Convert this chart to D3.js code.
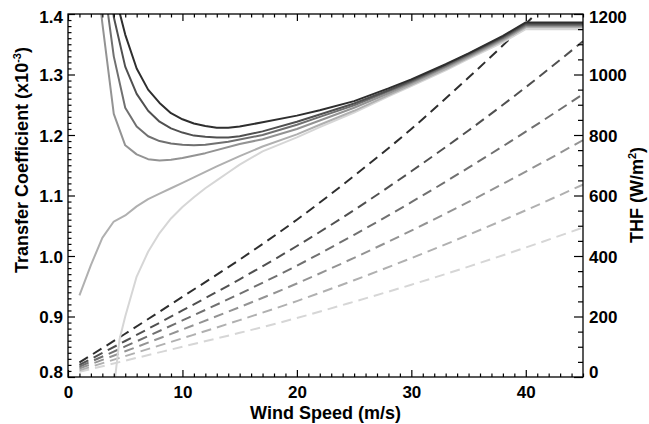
<!DOCTYPE html>
<html><head><meta charset="utf-8">
<script src="https://cdn.jsdelivr.net/npm/d3@7"></script>
<style>
body{margin:0;background:#fff}
text{font-family:"Liberation Sans",Arial,Helvetica,sans-serif;font-weight:bold;fill:#000}
</style>
</head><body>
<svg id="chart" width="649" height="424"></svg>
<script>
// ---------- data ----------
const windMajorTicks = [0, 10, 20, 30, 40];
const tcTicks = [0.8, 0.9, 1.0, 1.1, 1.2, 1.3, 1.4];
const thfTicks = [0, 200, 400, 600, 800, 1000, 1200];
const grays = ["#2e2e2e", "#505050", "#707070", "#939393", "#b0b0b0", "#d6d6d6"];

// transfer coefficient curves (x10^-3), solid
const tcWind1 = [4,5,6,7,8,9,10,11,12,13,14,15,17,20,22,25,28,30,33,35,38,40,45];
const tcCoef1 = [1.44,1.366,1.31,1.275,1.253,1.236,1.226,1.219,1.215,1.212,1.212,1.214,1.221,1.232,1.241,1.256,1.277,1.292,1.317,1.335,1.364,1.386,1.386];
const tcWind2 = [3,4,5,6,7,8,9,10,11,12,13,14,15,17,20,22,25,28,30,33,35,38,40,45];
const tcCoef2 = [1.6,1.395,1.313,1.268,1.240,1.222,1.211,1.204,1.199,1.197,1.196,1.196,1.198,1.206,1.222,1.234,1.252,1.274,1.290,1.316,1.334,1.362,1.384,1.384];
const tcWind3 = [3,4,5,6,7,8,9,10,11,12,14,17,20,22,25,28,30,33,35,38,40,45];
const tcCoef3 = [1.47,1.33,1.245,1.214,1.198,1.190,1.186,1.184,1.183,1.184,1.189,1.200,1.217,1.230,1.249,1.272,1.288,1.314,1.332,1.360,1.382,1.382];
const tcWind4 = [2,3,4,5,6,7,8,9,10,12,15,17,20,22,25,28,30,33,35,38,40,45];
const tcCoef4 = [1.55,1.385,1.235,1.183,1.168,1.160,1.158,1.159,1.162,1.170,1.185,1.193,1.210,1.224,1.245,1.269,1.286,1.312,1.330,1.358,1.380,1.380];
const tcWind5 = [1,2,3,4,5,6,7,8,9,10,11,12,13,15,17,20,22,25,28,30,33,35,38,40,45];
const tcCoef5 = [0.935,0.985,1.03,1.057,1.067,1.082,1.094,1.103,1.112,1.121,1.130,1.139,1.148,1.165,1.181,1.201,1.217,1.240,1.266,1.283,1.309,1.328,1.356,1.378,1.378];
const tcWind6 = [4,4.5,5,6,7,8,9,10,11,12,13,14,15,17,20,22,25,28,30,33,35,38,40,45];
const tcCoef6 = [0.78,0.862,0.90,0.966,1.007,1.038,1.062,1.081,1.097,1.112,1.125,1.138,1.151,1.173,1.196,1.213,1.237,1.264,1.281,1.307,1.326,1.353,1.375,1.375];

// total heat flux curves (W/m^2), dashed
const thfWind = [1,5,10,15,20,25,30,35,40,45];
const thf1 = [48,143,265,388,520,665,820,990,1168,1350];
const thf2 = [40,119,220,323,433,552,680,815,958,1110];
const thf3 = [34,101,187,275,368,470,578,692,811,935];
const thf4 = [28,85,157,231,309,394,484,579,679,783];
const thf5 = [22,69,128,188,251,320,393,470,551,636];
const thf6 = [17,54,100,146,195,249,305,365,428,494];

// ---------- chart ----------
const L = 68, R = 583, T = 14, B = 377;
const svg = d3.select("#chart");
const x = d3.scaleLinear().domain([0, 45]).range([L, R]);
const yL = d3.scaleLinear().domain([0.8, 1.4]).range([B, T]);
const yR = d3.scaleLinear().domain([0, 1200]).range([B, T]);

svg.append("defs").append("clipPath").attr("id", "clip")
  .append("rect").attr("x", L).attr("y", T).attr("width", R - L).attr("height", B - T);

const plot = svg.append("g").attr("clip-path", "url(#clip)");

const tcSets = [[tcWind1,tcCoef1],[tcWind2,tcCoef2],[tcWind3,tcCoef3],[tcWind4,tcCoef4],[tcWind5,tcCoef5],[tcWind6,tcCoef6]];
const thfSets = [thf1, thf2, thf3, thf4, thf5, thf6];

const lineTC = d3.line().x(d => x(d[0])).y(d => yL(d[1])).curve(d3.curveLinear);
const lineTHF = d3.line().x(d => x(d[0])).y(d => yR(d[1])).curve(d3.curveMonotoneX);

// dashed THF (draw lightest first)
thfSets.map((v, i) => ({v, i})).reverse().forEach(({v, i}) => {
  plot.append("path")
    .datum(thfWind.map((w, k) => [w, v[k]]))
    .attr("d", lineTHF).attr("fill", "none")
    .attr("stroke", grays[i]).attr("stroke-width", 2)
    .attr("stroke-dasharray", "10,6");
});
// solid TC
tcSets.map((s, i) => ({s, i})).reverse().forEach(({s, i}) => {
  plot.append("path")
    .datum(s[0].map((w, k) => [w, s[1][k]]))
    .attr("d", lineTC).attr("fill", "none")
    .attr("stroke", grays[i]).attr("stroke-width", 2)
    .attr("stroke-linejoin", "round");
});

// ---------- axes ----------
function styleAxis(g) {
  g.select(".domain").remove();
  g.selectAll("line").attr("stroke", "#000").attr("stroke-width", 1.2);
  g.selectAll("text").attr("font-size", 17).attr("font-family", '"Liberation Sans",Arial,sans-serif').attr("font-weight", "bold").attr("fill", "#000");
}
const minorX = d3.range(0, 46, 1).filter(v => v % 10 !== 0);
const minorL = d3.range(80, 141, 1).map(v => v / 100).filter(v => Math.round(v * 100) % 10 !== 0);
const minorR = d3.range(0, 1201, 50).filter(v => v % 200 !== 0);

// bottom
svg.append("g").attr("transform", `translate(0,${B})`)
  .call(d3.axisBottom(x).tickValues(windMajorTicks).tickSize(-7).tickPadding(9).tickFormat(d3.format("d")))
  .call(styleAxis);
svg.append("g").attr("transform", `translate(0,${B})`)
  .call(d3.axisBottom(x).tickValues(minorX).tickSize(-3.5).tickFormat(""))
  .call(styleAxis);
// top
svg.append("g").attr("transform", `translate(0,${T})`)
  .call(d3.axisTop(x).tickValues(windMajorTicks).tickSize(-7).tickFormat(""))
  .call(styleAxis);
svg.append("g").attr("transform", `translate(0,${T})`)
  .call(d3.axisTop(x).tickValues(minorX).tickSize(-3.5).tickFormat(""))
  .call(styleAxis);
// left
const gl = svg.append("g").attr("transform", `translate(${L},0)`)
  .call(d3.axisLeft(yL).tickValues(tcTicks).tickSize(-7).tickPadding(5).tickFormat(d3.format(".1f")))
  .call(styleAxis);
svg.append("g").attr("transform", `translate(${L},0)`)
  .call(d3.axisLeft(yL).tickValues(minorL).tickSize(-3.5).tickFormat(""))
  .call(styleAxis);
// right
const gr = svg.append("g").attr("transform", `translate(${R},0)`)
  .call(d3.axisRight(yR).tickValues(thfTicks).tickSize(-9).tickPadding(6).tickFormat(d3.format("d")))
  .call(styleAxis);
svg.append("g").attr("transform", `translate(${R},0)`)
  .call(d3.axisRight(yR).tickValues(minorR).tickSize(-5).tickFormat(""))
  .call(styleAxis);

// end labels nudged inside the frame
[gl, gr].forEach(g => {
  g.selectAll(".tick text").attr("y", function(d) {
    if (d === 0.8 || d === 0) return -5;
    if (d === 1.4 || d === 1200) return 3.5;
    return 1;
  });
});

// frame
svg.append("rect").attr("x", L).attr("y", T).attr("width", R - L).attr("height", B - T)
  .attr("fill", "none").attr("stroke", "#000").attr("stroke-width", 1.3);

// ---------- titles ----------
svg.append("text").attr("x", (L + R) / 2).attr("y", 418.5).attr("text-anchor", "middle")
  .attr("font-size", 18).text("Wind Speed (m/s)");

const lt = svg.append("text").attr("transform", "translate(28,160) rotate(-90)")
  .attr("text-anchor", "middle").attr("font-size", 18);
lt.append("tspan").text("Transfer Coefficient (x10");
lt.append("tspan").attr("dy", -7).attr("font-size", 11).text("-3");
lt.append("tspan").attr("dy", 7).text(")");

const rt = svg.append("text").attr("transform", "translate(643,195) rotate(-90)")
  .attr("text-anchor", "middle").attr("font-size", 18);
rt.append("tspan").text("THF (W/m");
rt.append("tspan").attr("dy", -7).attr("font-size", 11).text("2");
rt.append("tspan").attr("dy", 7).text(")");
</script>
</body></html>
